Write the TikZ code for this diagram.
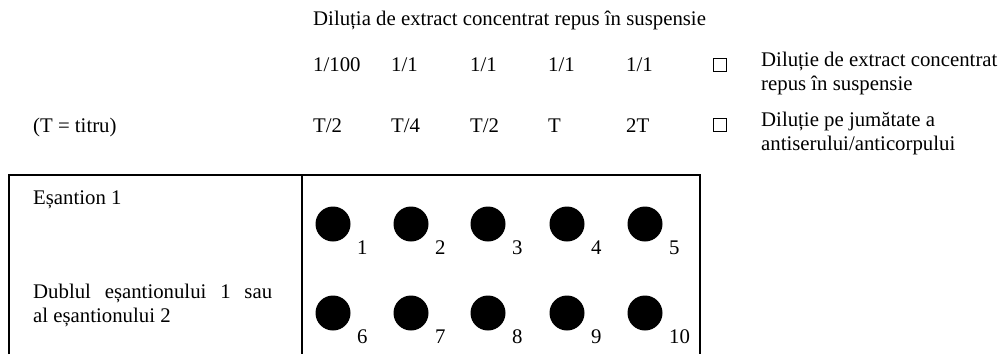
\documentclass[tikz,border=0pt]{standalone}
\usepackage{fontspec}
\setmainfont{Liberation Serif}
\begin{document}
\begin{tikzpicture}[x=1pt,y=-1pt,
  txt/.style={anchor=base west,inner sep=0pt,font=\fontsize{20.8}{24}\selectfont},
  well/.style={circle,fill=black,minimum size=35pt,inner sep=0pt},
  num/.style={anchor=base west,inner sep=0pt,font=\fontsize{20.8}{24}\selectfont},
  chk/.style={draw,line width=1.2pt,minimum size=13pt,inner sep=0pt},
  frame/.style={line width=1.4pt}]
\useasboundingbox (0,0) rectangle (1002,354);
% header
\node[txt] (title) at (313,25) {Diluția de extract concentrat repus în suspensie};
% row 1
\node[txt] (a1) at (313,71) {1/100};
\node[txt] (a2) at (391,71) {1/1};
\node[txt] (a3) at (470,71) {1/1};
\node[txt] (a4) at (548,71) {1/1};
\node[txt] (a5) at (626,71) {1/1};
\node[chk] (c1) at (720,65) {};
\node[txt,align=left,anchor=north west] (l1) at (761,52) {Diluție de extract concentrat\\repus în suspensie};
% row 2
\node[txt] (tt) at (33,132) {(T = titru)};
\node[txt] (b1) at (313,132) {T/2};
\node[txt] (b2) at (391,132) {T/4};
\node[txt] (b3) at (470,132) {T/2};
\node[txt] (b4) at (548,132) {T};
\node[txt] (b5) at (626,132) {2T};
\node[chk] (c2) at (720,125) {};
\node[txt,align=left,anchor=north west] (l2) at (761,112) {Diluție pe jumătate a\\antiserului/anticorpului};
% frame
\coordinate (f1) at (9,175);
\coordinate (f2) at (700,175);
\coordinate (f3) at (302,175);
\coordinate (g1) at (9,354);
\coordinate (g2) at (700,354);
\coordinate (g3) at (302,354);
\draw[frame] (g1) -- (f1) -- (f2) -- (g2);
\draw[frame] (f3) -- (g3);
% left labels
\node[txt] (s1) at (33,204) {Eșantion 1};
\node[txt,align=left,anchor=north west] (s2) at (33,284) {\makebox[239pt][s]{Dublul eșantionului 1 sau}\\al eșantionului 2};
% wells
\foreach \i/\x in {1/333,2/411,3/488,4/567,5/645}{
  \node[well] (w\i) at (\x,224) {};
  \node[num] (n\i) at (\x+24,254) {\i};
}
\foreach \i/\x in {6/333,7/411,8/488,9/567,10/645}{
  \node[well] (w\i) at (\x,313) {};
  \node[num] (n\i) at (\x+24,343) {\i};
}
\end{tikzpicture}
\end{document}
